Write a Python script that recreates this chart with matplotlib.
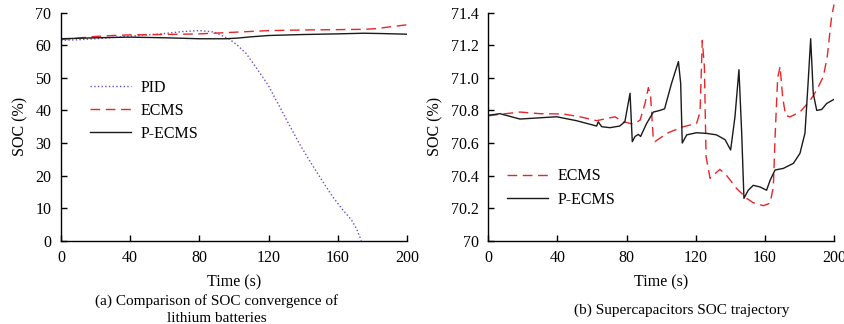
import numpy as np
import matplotlib
matplotlib.use("Agg")
from matplotlib import pyplot as plt

plt.rcParams['font.family'] = ['Liberation Serif', 'DejaVu Serif']
plt.rcParams['mathtext.fontset'] = 'stix'

# (a) lithium battery SOC
pid_t = [0, 10, 20, 30, 40, 50, 60, 70, 80, 88, 92, 97.6, 102, 107, 113, 119.7, 126, 132, 138, 144.7, 151, 157, 163, 168, 171, 173.6]
pid_soc = [61.5, 61.7, 62.0, 62.4, 62.8, 63.2, 63.6, 64.2, 64.5, 64.1, 63.2, 61.8, 60.0, 57.5, 53.0, 47.8, 41.5, 35.5, 29.6, 23.7, 18.4, 13.5, 9.4, 6.3, 3.5, 0.0]
ecms_t = [0, 10, 20, 30, 40, 60, 80, 100, 120, 140, 160, 175, 182, 188, 194, 200]
ecms_soc = [61.8, 62.2, 62.7, 63.0, 63.2, 63.3, 63.5, 64.0, 64.5, 64.7, 64.8, 64.9, 65.1, 65.5, 65.9, 66.3]
pecms_t = [0, 20, 40, 60, 80, 95, 102, 110, 120, 140, 160, 175, 185, 200]
pecms_soc = [62.0, 62.3, 62.5, 62.3, 62.0, 62.0, 62.2, 62.6, 63.0, 63.3, 63.5, 63.7, 63.6, 63.4]

# (b) supercapacitor SOC
sc_ecms_t = [0, 6.75, 18.3, 29.9, 43.4, 53, 62.7, 68.5, 73.3, 78, 83.9, 87.8, 90.6, 92.6, 93.9, 95.5, 96.4,
             103.2, 112.8, 120.5, 122.5, 123.8, 125, 126, 128.3, 130.2, 134, 137.9, 143.7, 149.5, 153.3,
             159.1, 163, 164.9, 166, 167.4, 168.8, 170.3, 172, 174.5, 180.3, 186.1, 190, 193.8, 196.1, 198.6, 200]
sc_ecms_soc = [70.767, 70.776, 70.79, 70.78, 70.778, 70.761, 70.737, 70.75, 70.761, 70.73, 70.716, 70.74, 70.84,
               70.94, 70.884, 70.618, 70.608, 70.659, 70.70, 70.72, 70.79, 71.23, 71.07, 70.516, 70.383, 70.403,
               70.438, 70.40, 70.32, 70.26, 70.233, 70.215, 70.23, 70.33, 70.66, 71.0, 71.07, 70.88, 70.77,
               70.76, 70.79, 70.86, 70.925, 71.007, 71.13, 71.375, 71.45]
sc_pecms_t = [0, 6.75, 18.3, 39.5, 51, 62.7, 63.6, 65.6, 70.4, 76, 79, 82, 83.3, 84.9, 86.8, 88.1, 91.6, 95.5,
              99.3, 102, 106, 110, 111.3, 112.2, 114.8, 120.5, 126.3, 132, 137, 140.2, 142.7, 145, 146.6,
              147.9, 150.4, 153.3, 157.2, 161, 163, 165.9, 170.7, 176.5, 180.3, 183.2, 185, 186.5, 188, 190,
              192.9, 195.8, 200]
sc_pecms_soc = [70.77, 70.78, 70.747, 70.761, 70.737, 70.704, 70.73, 70.70, 70.694, 70.704, 70.73, 70.905,
                70.608, 70.64, 70.653, 70.64, 70.72, 70.79, 70.80, 70.81, 70.966, 71.10, 70.966, 70.60, 70.65,
                70.663, 70.659, 70.65, 70.62, 70.557, 70.76, 71.05, 70.66, 70.26, 70.31, 70.34, 70.33, 70.31,
                70.37, 70.434, 70.444, 70.475, 70.536, 70.66, 70.966, 71.24, 70.905, 70.80, 70.806, 70.843, 70.868]

red = '#e8262a'
blk = '#1a1a1a'
purple = '#6a4bc4'

fig = plt.figure(figsize=(8.45, 3.24), dpi=100)
W, H = 845, 324
ax1 = fig.add_axes([61/W, 1-240.7/H, (407-61)/W, (240.7-12.7)/H])
ax2 = fig.add_axes([488.3/W, 1-240.7/H, (834-488.3)/W, (240.7-12.7)/H])

ax1.plot(pid_t, pid_soc, ':', color=purple, lw=1.0, label='PID')
ax1.plot(ecms_t, ecms_soc, '--', color=red, lw=1.0, dashes=(7, 4), label='ECMS')
ax1.plot(pecms_t, pecms_soc, '-', color=blk, lw=1.0, label='P-ECMS')
ax1.set_xlim(0, 200)
ax1.set_ylim(0, 70)
ax1.set_xticks([0, 40, 80, 120, 160, 200])
ax1.set_yticks(range(0, 71, 10))
ax1.legend(loc='upper left', bbox_to_anchor=(0.065, 0.735), frameon=False, fontsize=11.5,
           handlelength=2.6, handletextpad=0.6, labelspacing=0.45, borderaxespad=0)

ax2.plot(sc_ecms_t, sc_ecms_soc, '--', color=red, lw=1.0, dashes=(7, 4), label='ECMS', clip_on=False)
ax2.plot(sc_pecms_t, sc_pecms_soc, '-', color=blk, lw=1.0, label='P-ECMS')
ax2.set_xlim(0, 200)
ax2.set_ylim(70, 71.4)
ax2.set_xticks([0, 40, 80, 120, 160, 200])
yt = [70, 70.2, 70.4, 70.6, 70.8, 71.0, 71.2, 71.4]
ax2.set_yticks(yt)
ax2.set_yticklabels(['70', '70.2', '70.4', '70.6', '70.8', '71.0', '71.2', '71.4'])
ax2.legend(loc='upper left', bbox_to_anchor=(0.035, 0.345), frameon=False, fontsize=11.5,
           handlelength=2.6, handletextpad=0.6, labelspacing=0.45, borderaxespad=0)

for ax in (ax1, ax2):
    for s in ('top', 'right'):
        ax.spines[s].set_visible(False)
    ax.spines['left'].set_linewidth(1.0)
    ax.spines['bottom'].set_linewidth(1.0)
    ax.tick_params(direction='in', length=4, width=1.0, labelsize=11.5, pad=7)
    ax.set_xlabel('Time (s)', fontsize=11.5, labelpad=6)
    ax.set_ylabel('SOC (%)', fontsize=11.5, labelpad=5)

fig.text(217/W, 1-309.5/H, '(a) Comparison of SOC convergence of\nlithium batteries',
         ha='center', va='center', fontsize=11, linespacing=1.35)
fig.text(682/W, 1-310/H, '(b) Supercapacitors SOC trajectory', ha='center', va='center', fontsize=11)

fig.savefig('out.png', dpi=100)
